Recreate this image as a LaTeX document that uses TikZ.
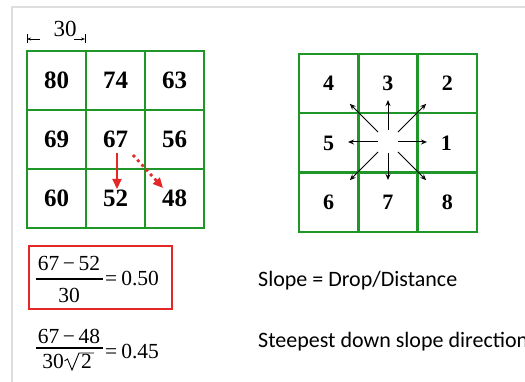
\documentclass[tikz,border=0pt]{standalone}
\usepackage{fontspec}
\setmainfont{Liberation Serif}
\newfontfamily\calfont{Carlito}
\usetikzlibrary{arrows.meta,calc}
\definecolor{gridgreen}{RGB}{30,150,40}
\definecolor{boxred}{RGB}{228,40,40}
\definecolor{framegray}{RGB}{222,222,222}
\begin{document}
\begin{tikzpicture}[x=1pt,y=-1pt,
  cellL/.style={draw=gridgreen, line width=2.4pt, minimum width=59pt, minimum height=59pt, inner sep=0pt, font=\fontsize{25}{25}\selectfont\bfseries},
  cellR/.style={draw=gridgreen, line width=2.4pt, minimum width=59.3pt, minimum height=59.3pt, inner sep=0pt, font=\fontsize{22}{22}\selectfont\bfseries},
  dirarrow/.style={line width=1pt, -{Stealth[length=6pt,width=5pt]}},
  redarrow/.style={draw=boxred, line width=2.2pt, -{Triangle[length=10pt,width=9pt]}},
  reddots/.style={draw=boxred, line width=2.8pt, dash pattern=on 2.8pt off 3.6pt, -{Triangle[length=10pt,width=9pt]}},
  dimarrow/.style={line width=0.7pt, -{Stealth[length=4pt,width=3pt]}},
  fr/.style={inner sep=0pt, font=\fontsize{21.5}{21.5}\selectfont},
  note/.style={inner sep=0pt, anchor=base west, font=\calfont\fontsize{22}{22}\selectfont}
]
\useasboundingbox (0,0) rectangle (525,382);
\clip (0,0) rectangle (525,382);
% frame
\draw[framegray, line width=1.5pt] (12,382) -- (12,7) -- (525,7);
% dimension
\node[inner sep=0pt, font=\fontsize{23}{23}\selectfont, anchor=base] (dimtxt) at (65,37) {30};
\coordinate (dlA) at (40,39); \coordinate (dlB) at (27,39);
\coordinate (drA) at (74,39); \coordinate (drB) at (85,39);
\draw[dimarrow] (dlA) -- (dlB);
\draw[dimarrow] (drA) -- (drB);
\draw[line width=0.7pt] (27,34.5) -- (27,43.5) (85,34.5) -- (85,43.5);
% left grid
\node[cellL] (l11) at (56.5,80.5) {80};
\node[cellL] (l12) at (115.5,80.5) {74};
\node[cellL] (l13) at (174.5,80.5) {63};
\node[cellL] (l21) at (56.5,139.5) {69};
\node[cellL] (l22) at (115.5,139.5) {67};
\node[cellL] (l23) at (174.5,139.5) {56};
\node[cellL] (l31) at (56.5,198.5) {60};
\node[cellL] (l32) at (115.5,198.5) {52};
\node[cellL] (l33) at (174.5,198.5) {48};
\coordinate (sA) at (117,153); \coordinate (sB) at (117,189);
\coordinate (dA) at (133,155); \coordinate (dB) at (163,188);
\draw[redarrow] (sA) -- (sB);
\draw[reddots] (dA) -- (dB);
% right grid
\node[cellR] (r11) at (328.65,83.65) {4};
\node[cellR] (r12) at (387.95,83.65) {3};
\node[cellR] (r13) at (447.25,83.65) {2};
\node[cellR] (r21) at (328.65,142.95) {5};
\node[cellR] (r22) at (387.95,142.95) {};
\node[cellR] (r23) at (447.25,142.95) {\kern-2pt1};
\node[cellR] (r31) at (328.65,202.25) {6};
\node[cellR] (r32) at (387.95,202.25) {7};
\node[cellR] (r33) at (447.25,202.25) {8};
\coordinate (c) at (388,142);
\foreach \a/\ri/\ro in {0/10/39, 180/10/40, 90/11/38, 270/12/42, 45/14/54, 135/14/54, 225/14/54, 315/14/54}{
  \draw[dirarrow] ($(c)+(\a:\ri)$) -- ($(c)+(\a:\ro)$);
}
% formula 1
\node[draw=boxred, line width=1.6pt, minimum width=143pt, minimum height=63pt, inner sep=0pt] (box) at (100.5,277.5) {};
\node[fr, anchor=base] (n1) at (69,271) {67\kern3.5pt−\kern3.5pt52};
\node[fr, anchor=base] (d1) at (69,302) {30};
\draw[line width=1.1pt] (36,279) -- (103,279);
\node[fr, anchor=base west] (e1) at (105,285) {=\kern4pt0.50};
% formula 2
\node[fr, anchor=base] (n2) at (69,343) {67\kern3.5pt−\kern3.5pt48};
\draw[line width=1.1pt] (36,348) -- (103,348);
\node[fr, anchor=base east] (d2) at (64,368) {30};
\draw[line width=0.9pt] (64.5,361) -- (67.5,359) -- (72,370) -- (79,353) -- (94,353);
\node[fr, anchor=base west] (d2b) at (81,368) {2};
\node[fr, anchor=base west] (e2) at (105,358) {=\kern4pt0.45};
% notes
\node[note] (t1) at (258,287) {Slope = Drop/Distance};
\node[note] (t2) at (258,347) {Steepest down slope direction};
\end{tikzpicture}
\end{document}
